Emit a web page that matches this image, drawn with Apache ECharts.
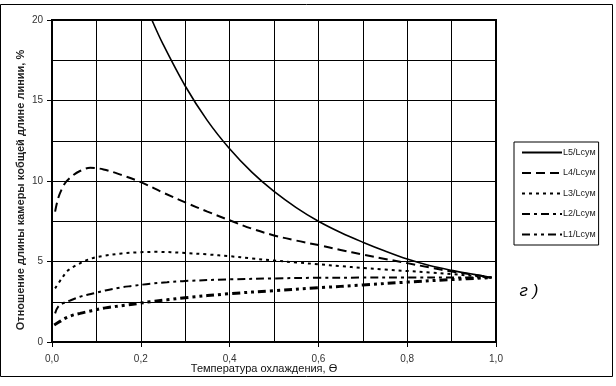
<!DOCTYPE html>
<html>
<head>
<meta charset="utf-8">
<script src="https://cdn.jsdelivr.net/npm/echarts@6/dist/echarts.min.js"></script>
<style>html,body{margin:0;padding:0;background:#fff;}#c{width:616px;height:386px;}</style>
</head>
<body>
<div id="c"></div>
<script>
var seriesNames = ['L5/Lсум', 'L4/Lсум', 'L3/Lсум', 'L2/Lсум', 'L1/Lсум'];

var l5X = [0.225, 0.25, 0.3, 0.35, 0.4, 0.45, 0.5, 0.55, 0.6, 0.65, 0.7, 0.75, 0.8, 0.85, 0.9, 0.95, 0.99];
var l5Y = [20.0, 18.5, 15.9, 13.75, 12.0, 10.55, 9.35, 8.35, 7.5, 6.8, 6.2, 5.65, 5.15, 4.75, 4.45, 4.2, 4.0];

var l4X = [0.007, 0.014, 0.023, 0.032, 0.048, 0.063, 0.086, 0.116, 0.157, 0.2, 0.25, 0.3, 0.35, 0.4, 0.45, 0.5, 0.55, 0.6, 0.65, 0.7, 0.75, 0.8, 0.85, 0.9, 0.95, 0.99];
var l4Y = [8.1, 8.94, 9.55, 9.96, 10.37, 10.62, 10.82, 10.72, 10.37, 9.93, 9.28, 8.67, 8.1, 7.56, 7.04, 6.62, 6.3, 6.02, 5.72, 5.43, 5.16, 4.9, 4.63, 4.38, 4.18, 4.0];

var l3X = [0.007, 0.022, 0.037, 0.057, 0.077, 0.097, 0.116, 0.157, 0.195, 0.236, 0.3, 0.35, 0.4, 0.45, 0.5, 0.55, 0.6, 0.65, 0.7, 0.75, 0.8, 0.85, 0.9, 0.95, 0.99];
var l3Y = [3.33, 3.95, 4.47, 4.8, 5.07, 5.25, 5.35, 5.5, 5.57, 5.6, 5.53, 5.44, 5.33, 5.19, 5.06, 4.94, 4.83, 4.71, 4.6, 4.5, 4.41, 4.32, 4.22, 4.1, 4.0];

var l2X = [0.007, 0.014, 0.026, 0.041, 0.063, 0.078, 0.097, 0.12, 0.153, 0.18, 0.221, 0.259, 0.3, 0.4, 0.5, 0.6, 0.7, 0.8, 0.9, 0.99];
var l2Y = [1.78, 2.19, 2.42, 2.58, 2.81, 2.92, 3.04, 3.2, 3.38, 3.48, 3.62, 3.71, 3.79, 3.89, 3.95, 3.99, 4.0, 4.01, 4.0, 4.0];

var l1X = [0.005, 0.018, 0.029, 0.044, 0.063, 0.082, 0.097, 0.12, 0.169, 0.195, 0.221, 0.259, 0.3, 0.4, 0.5, 0.6, 0.7, 0.8, 0.9, 0.99];
var l1Y = [1.06, 1.28, 1.47, 1.64, 1.78, 1.9, 1.99, 2.12, 2.3, 2.4, 2.5, 2.62, 2.75, 3.0, 3.19, 3.37, 3.54, 3.72, 3.88, 4.0];

var xTickLabels = ['0,0', '0,2', '0,4', '0,6', '0,8', '1,0'];
var yTickLabels = ['0', '5', '10', '15', '20'];

var xTitle = 'Температура охлаждения, ϴ';
var yTitle = 'Отношение длины камеры кобщей длине линии, %';
var panelLabel = 'г )';

function pairs(xs, ys) { return xs.map(function (x, i) { return [x, ys[i]]; }); }

var allX = [l5X, l4X, l3X, l2X, l1X];
var allY = [l5Y, l4Y, l3Y, l2Y, l1Y];
var styles = [
  { type: 'solid', width: 1.6 },
  { type: [9, 5], width: 2 },
  { type: [3, 4], width: 2 },
  { type: [8, 4, 3, 4], width: 2 },
  { type: [8, 4, 3, 4, 3, 4], width: 3 }
];

var chart = echarts.init(document.getElementById('c'), null, { renderer: 'canvas' });
var font = '"Liberation Sans", Arial, sans-serif';

chart.setOption({
  backgroundColor: '#fff',
  animation: false,
  textStyle: { fontFamily: font },
  grid: { left: 52, top: 20, right: 120, bottom: 44, show: true, borderColor: '#000', borderWidth: 2, backgroundColor: 'transparent' },
  xAxis: {
    type: 'value', min: 0, max: 1, interval: 0.2,
    axisLine: { show: true, lineStyle: { color: '#000', width: 2 } },
    axisTick: { show: true, length: 5, lineStyle: { color: '#000' } },
    axisLabel: { color: '#333', fontSize: 10, margin: 12, formatter: function (v) { return xTickLabels[Math.round(v * 5)]; } },
    splitLine: { show: true, lineStyle: { color: '#000', width: 1 } },
    minorTick: { show: false, splitNumber: 2 },
    minorSplitLine: { show: true, lineStyle: { color: '#000', width: 1 } }
  },
  yAxis: {
    type: 'value', min: 0, max: 20, interval: 5,
    axisLine: { show: true, lineStyle: { color: '#000', width: 2 } },
    axisTick: { show: true, length: 5, lineStyle: { color: '#000' } },
    axisLabel: { color: '#333', fontSize: 10, margin: 9, formatter: function (v) { return yTickLabels[Math.round(v / 5)]; } },
    splitLine: { show: true, lineStyle: { color: '#000', width: 1 } },
    minorTick: { show: false, splitNumber: 2 },
    minorSplitLine: { show: true, lineStyle: { color: '#000', width: 1 } }
  },
  legend: {
    orient: 'vertical', left: 514, top: 142,
    padding: [6, 3, 6, 7],
    itemWidth: 40, itemHeight: 10, itemGap: 11.5,
    borderColor: '#000', borderWidth: 1, backgroundColor: '#fff',
    itemStyle: { color: 'rgba(0,0,0,0)', borderWidth: 0, opacity: 0 },
    textStyle: { fontSize: 9, color: '#222', padding: [0, 0, 0, -4] },
    data: seriesNames
  },
  series: seriesNames.map(function (n, i) {
    return {
      name: n, type: 'line', smooth: 0.35, symbol: 'none', showSymbol: false,
      clip: true,
      data: pairs(allX[i], allY[i]),
      lineStyle: { color: '#000', width: styles[i].width, type: styles[i].type },
      itemStyle: { color: '#000' }
    };
  }),
  graphic: [
    { type: 'rect', shape: { x: 0.5, y: 4.5, width: 612, height: 372 }, style: { fill: 'none', stroke: '#000', lineWidth: 1 }, silent: true },
    { type: 'text', x: 21, y: 190, rotation: Math.PI / 2, style: { text: yTitle, fontSize: 11, fontWeight: 'bold', fill: '#222', align: 'center', verticalAlign: 'middle', fontFamily: font } },
    { type: 'text', x: 264, y: 369, style: { text: xTitle, fontSize: 11, fill: '#111', align: 'center', verticalAlign: 'middle', fontFamily: font } },
    { type: 'text', x: 529, y: 291, style: { text: panelLabel, fontSize: 17, fontStyle: 'italic', fill: '#000', align: 'center', verticalAlign: 'middle', fontFamily: font } }
  ]
});
</script>
</body>
</html>
